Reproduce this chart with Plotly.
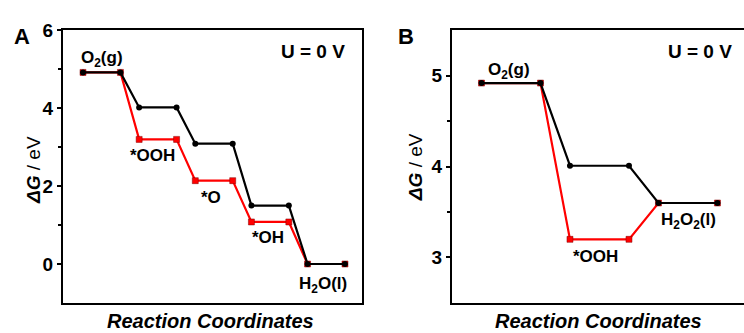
import plotly.graph_objects as go

# Panel A data
xa = [0, 2, 3, 5, 6, 8, 9, 11, 12, 14]
black_a = [4.92, 4.92, 4.02, 4.02, 3.09, 3.09, 1.50, 1.50, 0.0, 0.0]
red_a = [4.92, 4.92, 3.20, 3.20, 2.14, 2.14, 1.08, 1.08, 0.0, 0.0]

# Panel B data
xb = [0, 2, 3, 5, 6, 8]
black_b = [4.92, 4.92, 4.01, 4.01, 3.60, 3.60]
red_b = [4.92, 4.92, 3.20, 3.20, 3.60, 3.60]

# Tick labels
ticks_a = [0, 2, 4, 6]
minor_a = [1, 3, 5]
ticks_b = [3, 4, 5]
minor_b = [3.5, 4.5]

FONT = "Liberation Sans"
W, H = 744, 333

fig = go.Figure()

def add_pair(x, red, black, xa_name, ya_name):
    fig.add_trace(go.Scatter(x=x, y=red, mode="lines+markers", xaxis=xa_name, yaxis=ya_name,
                             line=dict(color="#ff0000", width=2.2),
                             marker=dict(symbol="square", size=6, color="#ff0000",
                                         line=dict(color="#800000", width=0.5)),
                             showlegend=False))
    fig.add_trace(go.Scatter(x=x, y=black, mode="lines+markers", xaxis=xa_name, yaxis=ya_name,
                             line=dict(color="#000000", width=2.2),
                             marker=dict(symbol="circle", size=6, color="#000000"),
                             showlegend=False))

add_pair(xa, red_a, black_a, "x", "y")
add_pair(xb, red_b, black_b, "x2", "y2")

ydom = [1 - 302 / H, 1 - 21 / H]
tickfont = dict(family=FONT, size=19, color="black", weight="bold")

axis_common = dict(showgrid=False, zeroline=False, showline=True, linecolor="black", linewidth=2)

fig.update_layout(
    width=W, height=H, margin=dict(l=0, r=0, t=0, b=0),
    paper_bgcolor="white", plot_bgcolor="white",
    xaxis=dict(domain=[63 / W, 362 / W], range=[-1.07, 14.91], showticklabels=False, ticks="",
               mirror=True, anchor="y", **axis_common),
    yaxis=dict(domain=ydom, range=[-1, 6], tickvals=ticks_a, ticktext=[str(v) for v in ticks_a],
               ticks="outside", ticklen=4, tickwidth=2, tickcolor="black", tickfont=tickfont,
               minor=dict(tickvals=minor_a, ticks="outside", ticklen=3, tickwidth=1.5, tickcolor="black"),
               mirror=True, anchor="x", **axis_common),
    xaxis2=dict(domain=[452 / W, 1.0], range=[-1.0, 8.9], showticklabels=False, ticks="",
                mirror=True, anchor="y2", **axis_common),
    yaxis2=dict(domain=ydom, range=[2.5, 5.5], tickvals=ticks_b, ticktext=[str(v) for v in ticks_b],
                ticks="outside", ticklen=4, tickwidth=2, tickcolor="black", tickfont=tickfont,
                minor=dict(tickvals=minor_b, ticks="outside", ticklen=3, tickwidth=1.5, tickcolor="black"),
                mirror=False, anchor="x2", **axis_common),
)

def ann(text, x, y, xref, yref, size=16, **kw):
    fig.add_annotation(text=text, x=x, y=y, xref=xref, yref=yref, showarrow=False,
                       xanchor="center", yanchor="middle",
                       font=dict(family=FONT, size=size, color="black"), **kw)

# Panel A labels
ann("<b>O<sub>2</sub>(g)</b>", 1.0, 5.27, "x", "y", size=17)
ann("<b>*OOH</b>", 3.7, 2.78, "x", "y", size=17)
ann("<b>*O</b>", 6.85, 1.71, "x", "y", size=17)
ann("<b>*OH</b>", 9.87, 0.67, "x", "y", size=17)
ann("<b>H<sub>2</sub>O(l)</b>", 12.8, -0.53, "x", "y", size=17)
ann("<b>U = 0 V</b>", 313 / W, 1 - 43 / H, "paper", "paper", size=19)

# Panel B labels
ann("<b>O<sub>2</sub>(g)</b>", 0.93, 5.05, "x2", "y2", size=17)
ann("<b>*OOH</b>", 3.87, 3.01, "x2", "y2", size=17)
ann("<b>H<sub>2</sub>O<sub>2</sub>(l)</b>", 7.03, 3.40, "x2", "y2", size=17)
ann("<b>U = 0 V</b>", 700 / W, 1 - 43 / H, "paper", "paper", size=19)

# Panel letters
ann("<b>A</b>", 22 / W, 1 - 27 / H, "paper", "paper", size=22)
ann("<b>B</b>", 406 / W, 1 - 27 / H, "paper", "paper", size=22)

# Axis titles
ann("<b><i>Reaction Coordinates</i></b>", 210 / W, 1 - 321 / H, "paper", "paper", size=20)
ann("<b><i>Reaction Coordinates</i></b>", 598 / W, 1 - 321 / H, "paper", "paper", size=20)
ann("<b><i>ΔG</i></b> / eV", 33 / W, 1 - 165 / H, "paper", "paper", size=19, textangle=-90)
ann("<b><i>ΔG</i></b> / eV", 415 / W, 1 - 162 / H, "paper", "paper", size=19, textangle=-90)

fig.write_html("out.html")
